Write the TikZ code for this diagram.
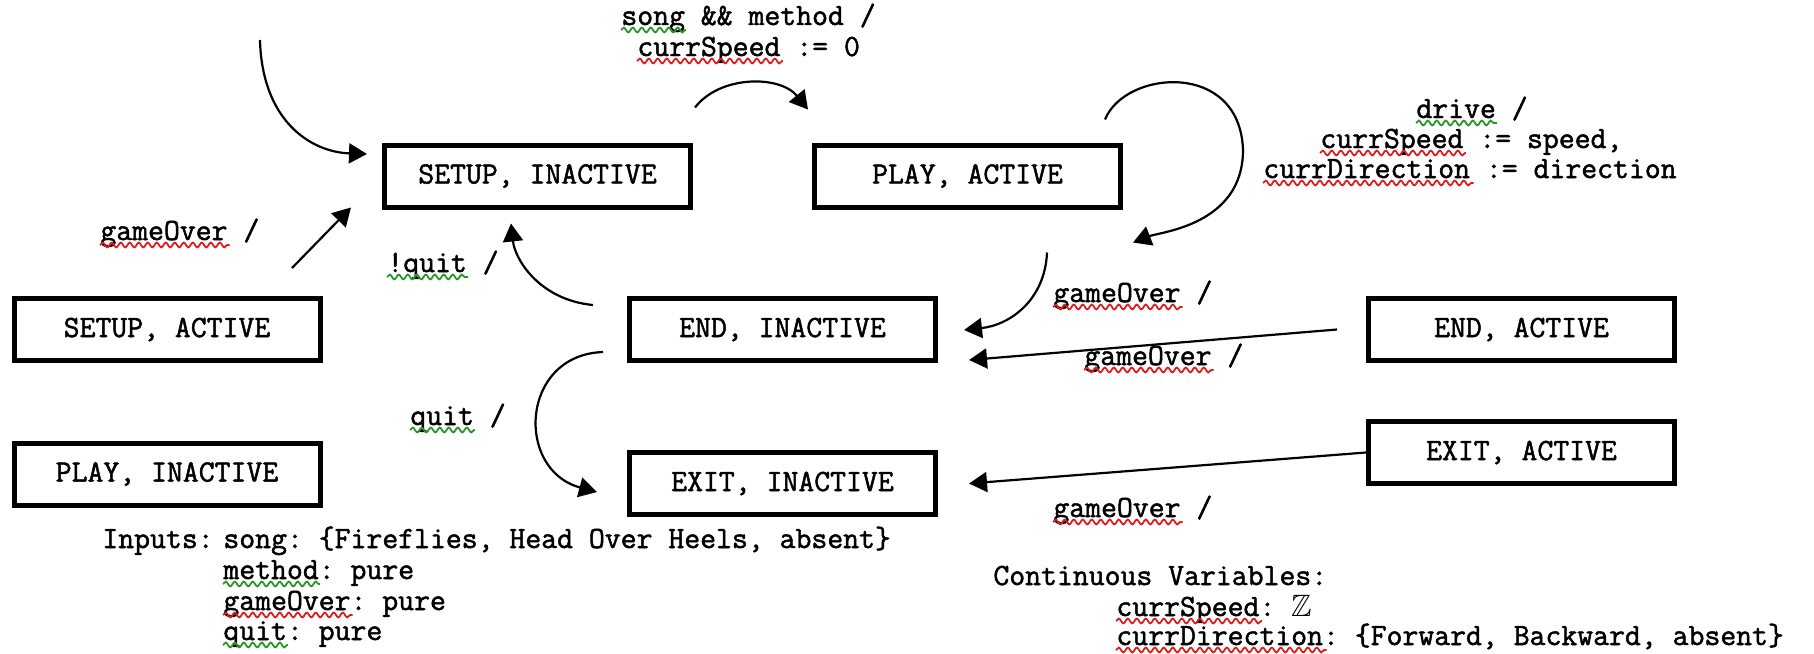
\documentclass[tikz,border=0pt]{standalone}
\usepackage{fontspec}
\usepackage{amssymb}
\usetikzlibrary{arrows.meta,calc,decorations.pathmorphing}
\newfontfamily\cour{Latin Modern Mono}[FakeBold=1.6]
\definecolor{sqred}{RGB}{222,30,30}
\definecolor{sqgreen}{RGB}{40,150,40}
\newcommand{\labfont}{\cour\fontsize{15.43}{18}\selectfont\frenchspacing}
\tikzset{
  state/.style={draw, line width=2.5pt, minimum width=153pt, minimum height=31pt, inner sep=0pt, font=\labfont},
  lbl/.style={inner sep=0pt, anchor=base west, font=\labfont},
  trans/.style={line width=1.1pt, -{Triangle[length=9pt,width=10pt]}},
  squig/.style={line width=0.9pt, decorate, decoration={snake, amplitude=1.2pt, segment length=4.5pt}},
}
\newcommand{\sq}[4]{\draw[squig,#1] ($(#2.base west)+(#3*16.2,5)$) -- ++(#4*16.2,0);}
\begin{document}
\begin{tikzpicture}[x=0.5pt,y=-0.5pt]
\useasboundingbox (0,0) rectangle (1814,653);
% states
\node[state] (SI) at (537.5,176) {SETUP, INACTIVE};
\node[state] (PA) at (967.5,176) {PLAY, ACTIVE};
\node[state] (SA) at (167,329.5) {SETUP, ACTIVE};
\node[state] (EI) at (782.5,329.5) {END, INACTIVE};
\node[state] (EA) at (1521.5,329.5) {END, ACTIVE};
\node[state] (PI) at (167,474) {PLAY, INACTIVE};
\node[state] (XI) at (782.5,483.5) {EXIT, INACTIVE};
\node[state] (XA) at (1521.5,452.5) {EXIT, ACTIVE};
\coordinate (init) at (260,40);
% transitions
\draw[trans] (init) .. controls (262,120) and (310,152) .. ($(SI.west)+(-15,-22)$);
\draw[trans] ($(SA.north)+(125,-28)$) -- ($(SI.south west)+(-31,-2)$);
\draw[trans] ($(EI.north west)+(-34,9)$) .. controls (540,300) and (515,260) .. ($(SI.south)+(-26.5,14)$);
\draw[trans] ($(SI.north east)+(2,-35)$) .. controls (720,75) and (780,75) .. ($(PA.north west)+(-4,-33)$);
\draw[trans] ($(PA.north east)+(-18,-23)$) .. controls (1125,70) and (1240,60) .. (1243,150) .. controls (1243,225) and (1160,232) .. ($(PA.south east)+(10,33)$);
\draw[trans] ($(PA.south)+(79.5,43)$) .. controls (1045,300) and (1010,325) .. ($(EI.east)+(26,0.5)$);
\draw[trans] ($(EA.west)+(-29,0)$) -- ($(EI.east)+(31,30.5)$);
\draw[trans] (XA.west) -- ($(XI.east)+(31,0)$);
\draw[trans] ($(EI.south west)+(-24,-11)$) .. controls (520,355) and (515,470) .. ($(XI.west)+(-30,8.5)$);
% labels
\node[lbl] (t1) at (621,25) {song \&\& method /};
\node[lbl] (t2) at (637,56) {currSpeed := 0};
\node[lbl] (d1) at (1416,118) {drive /};
\node[lbl] (d2) at (1320,148) {currSpeed := speed,};
\node[lbl] (d3) at (1263,178) {currDirection := direction};
\node[lbl] (g1) at (100,240) {gameOver /};
\node[lbl] (q1) at (387,272) {!quit /};
\node[lbl] (g2) at (1053,302) {gameOver /};
\node[lbl] (g3) at (1084,365) {gameOver /};
\node[lbl] (g4) at (1053,517) {gameOver /};
\node[lbl] (q2) at (410,425) {quit /};
\node[lbl] (in0) at (102,548) {Inputs:};
\node[lbl] (in1) at (223,548) {song: \{Fireflies, Head Over Heels, absent\}};
\node[lbl] (in2) at (223,579) {method: pure};
\node[lbl] (in3) at (223,610) {gameOver: pure};
\node[lbl] (in4) at (223,640) {quit: pure};
\node[lbl] (cv0) at (993,585) {Continuous Variables:};
\node[lbl] (cv1) at (1116,616) {currSpeed: $\mathbb{Z}$};
\node[lbl] (cv2) at (1116,645) {currDirection: \{Forward, Backward, absent\}};
% spell-check squiggles
\sq{sqgreen}{t1}{0}{4}
\sq{sqred}{t2}{0}{9}
\sq{sqgreen}{d1}{0}{5}
\sq{sqred}{d2}{0}{9}
\sq{sqred}{d3}{0}{13}
\sq{sqred}{g1}{0}{8}
\sq{sqred}{g2}{0}{8}
\sq{sqred}{g3}{0}{8}
\sq{sqred}{g4}{0}{8}
\sq{sqgreen}{q1}{0}{5}
\sq{sqgreen}{q2}{0}{4}
\sq{sqgreen}{in2}{0}{6}
\sq{sqred}{in3}{0}{8}
\sq{sqgreen}{in4}{0}{4}
\sq{sqred}{cv1}{0}{9}
\sq{sqred}{cv2}{0}{13}
\end{tikzpicture}
\end{document}
